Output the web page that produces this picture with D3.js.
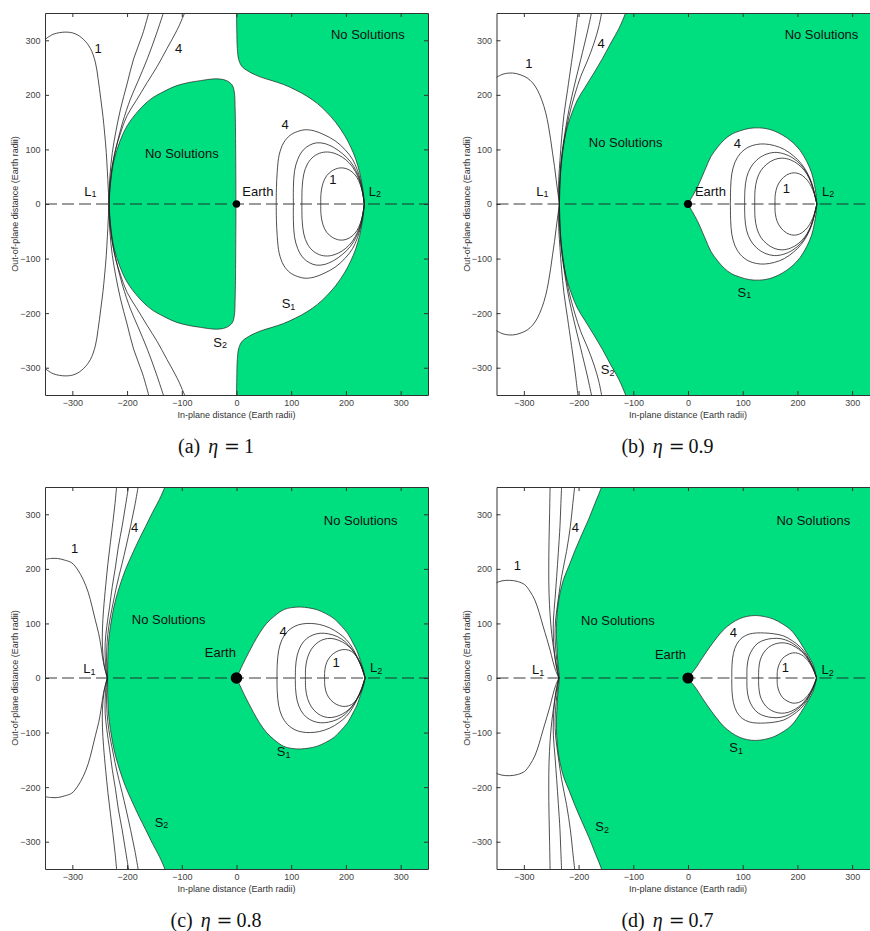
<!DOCTYPE html>
<html>
<head>
<meta charset="utf-8">
<script src="https://cdn.jsdelivr.net/npm/d3@7"></script>
<style>
  body { margin: 0; background: #fff; }
  svg text { font-family: "Liberation Sans", Arial, sans-serif; }
</style>
</head>
<body>
<svg id="fig" width="870" height="931"></svg>
<script>
// axis ticks shared by all four panels
const tickValues = [-300, -200, -100, 0, 100, 200, 300];
const panelTags = ["a", "b", "c", "d"];
const etaValues = ["1", "0.9", "0.8", "0.7"];
const earthRadius = [3.7, 4, 5.8, 5.6];

// only the upper half (y >= 0) is stored, every curve is mirrored about y = 0

// ---- (a) eta = 1 ----
const leftA = [
  [[-352,300],[-335,311],[-312,315],[-295,312],[-280,302],[-267,285],[-258,260],[-253,230],[-248,192],[-244,160],[-241,130],[-238,94],[-236,60],[-234.5,30],[-233,0]],
  [[-160,352],[-172,310],[-188,266],[-200,220],[-212,174],[-221,130],[-227,94],[-231,55],[-233,20],[-233,0]],
  [[-133,352],[-147,310],[-163,266],[-180,225],[-194,192],[-208,150],[-218,112],[-226,75],[-230,45],[-232.5,15],[-233,0]],
  [[-94,352],[-108,320],[-127,285],[-145,252],[-163,223],[-183,190],[-200,162],[-212,130],[-221,100],[-227,70],[-231,40],[-232.5,15],[-233,0]]
];
const loopsA = [
  [[154,0],[154.5,20],[158,38],[165,52],[175,61],[188,66],[200,65],[211,59],[220,49],[226,36],[230.5,20],[233.5,0]],
  [[119.5,0],[120,30],[123,55],[130,74],[141,87],[155,94],[170,95],[186,90],[200,81],[212,68],[221,52],[227,36],[231,18],[233.5,0]],
  [[104,0],[104,30],[106,60],[112,82],[122,99],[134,108],[146,112],[160,111],[177,104],[194,92],[208,78],[219,60],[226,42],[231,20],[233.5,0]],
  [[72.6,0],[73,30],[74.5,60],[78,90],[86,112],[98,126],[112,133],[125,136],[142,134],[160,127],[180,116],[198,100],[212,82],[221,62],[227,42],[231,20],[233.5,0]]
];
const innerRegionA = [[-233,0],[-230,40],[-224,80],[-213,115],[-200,143],[-180,170],[-157,192],[-133,206],[-109,217],[-85,223],[-66,226],[-45,229],[-30,229],[-18,226],[-8,218],[-4,205],[-2.5,174],[-1.5,100],[-1,0]];
const outerRegionA = [[0,360],[0.5,320],[1.5,285],[4,265],[10,252],[22,243],[43,233],[65,226],[86,219],[108,209],[128,198],[148,184],[165,168],[181,150],[198,125],[209,104],[218,82],[225,58],[229.5,35],[232.5,15],[233.5,0]];
const labelsA = [
  ["No Solutions", 240, 310], ["No Solutions", -100, 92], ["Earth", 39, 23],
  ["L", -267, 23, "1"], ["L", 253, 23, "2"], ["S", 95, -183, "1"], ["S", -30, -253, "2"],
  ["1", -253, 285], ["4", -106, 285], ["4", 89, 146], ["1", 176, 45]
];

// ---- (b) eta = 0.9 ----
const leftB = [
  [[-352,231],[-338,238],[-321,240],[-307,237],[-294,231],[-284,222],[-275.5,209.5],[-267,190],[-260,167],[-255,143],[-251,118],[-247.5,93],[-244,69],[-241,45],[-238,22],[-235,0]],
  [[-201,352],[-206,310],[-210,280],[-214,252],[-220,210],[-227,161],[-231,120],[-234,80],[-236,50],[-236.5,20],[-235,0]],
  [[-176,352],[-184,315],[-196,265],[-207,220],[-217.5,173],[-225,130],[-231,87],[-234,55],[-235,26],[-235,0]],
  [[-157.6,352],[-163,325],[-171.7,295],[-184,262],[-196,234],[-207,200],[-217.5,161],[-225,123],[-230,87],[-233,55],[-234,32],[-235,0]]
];
const loopsB = [
  [[159,0],[159.5,17],[163,32],[170,44],[180,53],[192,57],[204,55],[214,48],[222,38],[228,26],[232.5,13],[235.5,0]],
  [[122,0],[122.5,25],[126,45],[133,61],[144,73],[157,81],[172,84],[187,81],[201,73],[213,61],[222,46],[229,27],[232.5,13],[235.5,0]],
  [[103.5,0],[104,25],[107,48],[114,66],[125,80],[140,90],[158,94.5],[175,92],[192,84],[206,72],[217,57],[225,40],[231,20],[235.5,0]],
  [[77.5,0],[78,30],[80,55],[86,77],[96,93],[110,104],[125,109],[140,110],[158,107],[176,100],[193,88],[207,74],[218,57],[226,39],[231,20],[235.5,0]]
];
const boundaryS2B = [[-110,360],[-114,350],[-126,322],[-141,295],[-156,267],[-172,240],[-188,214],[-202,191],[-212,167],[-220.5,142],[-226,118],[-230,93],[-232.5,68],[-234,45],[-235,20],[-235,0]];
const boundaryS1B = [[0,0],[8,14],[17.7,32],[30,60],[42,87],[54,104],[66.6,118],[80,128],[95,134],[112,138.5],[130,139.5],[148,137],[170,128],[190,114],[205,98],[217,78],[226,57],[231,36],[234,17],[235.5,0]];
const labelsB = [
  ["No Solutions", 244, 310], ["No Solutions", -114, 112], ["Earth", 41, 23],
  ["L", -266, 23, "1"], ["L", 256, 23, "2"], ["S", 103, -162, "1"], ["S", -147, -304, "2"],
  ["1", -291, 258], ["4", -159, 295], ["4", 90, 110], ["1", 180, 29]
];

// ---- (c) eta = 0.8 ----
const leftC = [
  [[-352,217],[-340,219],[-327,219],[-314,216],[-301,211],[-290,198],[-280,180],[-271,157],[-264,131],[-258,106],[-252,82],[-248,60],[-245,39],[-241,18],[-236,0]],
  [[-219,352],[-222,320],[-226,285],[-230.5,248],[-235,210],[-239,170],[-243,125],[-245,90],[-245,57],[-242,25],[-236,0]],
  [[-197,352],[-203,315],[-209,278],[-216,240],[-221,205],[-227,168],[-232,130],[-237,95],[-240,65],[-240,38],[-238.5,15],[-236,0]],
  [[-179.5,352],[-186,315],[-193.6,278],[-202,240],[-209,210],[-215,186],[-222,155],[-228,125],[-233.5,94],[-236.5,65],[-237.5,33],[-236,0]]
];
const loopsC = [
  [[161,0],[161.5,15],[165,29],[172,40],[182,48],[194,52],[205,51],[214,46],[221,37],[227,26],[231.5,13],[235,0]],
  [[126,0],[126.5,20],[130,38],[137,53],[147,64],[160,71],[173,72.5],[187,69],[200,62],[211,52],[219,40],[226,27],[231,13],[235,0]],
  [[107.6,0],[108,20],[111,42],[118,60],[128,72],[140,79],[153,82],[168,81],[184,76],[198,67],[209,55],[218,42],[225,28],[231,13],[235,0]],
  [[74,0],[74.5,25],[77,50],[83,70],[93,85],[107,95],[120,99],[135,100],[152,98],[170,92],[187,82],[201,70],[212,55],[221,38],[228,22],[232,10],[235,0]]
];
const boundaryS2C = [[-128,360],[-131,350],[-141,327],[-153.7,303],[-166,278],[-178,254],[-191,226],[-203,198.5],[-213,170],[-221,143],[-226.5,118],[-230.5,94],[-233.5,70],[-235,45],[-235.5,20],[-235.5,0]];
const boundaryS1C = [[0,0],[6,13],[12,26],[21,44],[31,63],[42,82],[55,100],[70,114],[86,125],[101,129],[117,130],[132,128.5],[147.5,125],[163,118],[178,109],[191,96],[203,82],[214,62],[220,50],[224,39],[229,24],[233,11],[235,0]];
const labelsC = [
  ["No Solutions", 227, 289], ["No Solutions", -124, 108], ["Earth", -29.5, 46],
  ["L", -269, 17, "1"], ["L", 255, 19, "2"], ["S", 86, -135, "1"], ["S", -137, -264, "2"],
  ["1", -296, 237], ["4", -186, 275], ["4", 85, 85], ["1", 182, 29]
];

// ---- (d) eta = 0.7 ----
const leftD = [
  [[-352,174],[-340,178],[-326,179],[-312,177],[-298.5,171],[-289,159],[-280,143],[-272,120],[-264.6,94],[-258,72],[-252,51],[-247,31],[-242,14],[-236,0]],
  [[-252,352],[-253,300],[-254,250],[-254.5,200],[-254,155],[-252,115],[-249,80],[-245,50],[-240.5,22],[-236,0]],
  [[-231,352],[-232.5,315],[-234,278],[-237,230],[-240,186],[-243,145],[-246,106],[-246,75],[-244,45],[-240.5,20],[-236,0]],
  [[-207,352],[-211,315],[-215,278],[-222,232],[-231,186],[-237,145],[-242,106],[-243,75],[-241,45],[-238.5,20],[-236,0]]
];
const loopsD = [
  [[163,0],[163.5,14],[167,26],[173,36],[181,42],[191,46],[202,45],[211,40],[219,32],[225,23],[230.5,11.5],[235,0]],
  [[129,0],[129.5,18],[132,33],[138,46],[147,56],[158,62],[170,64.5],[183,63],[196,57],[207,49],[216,39],[224,27],[230,14],[235,0]],
  [[107.7,0],[108,20],[111,38],[118,53],[128,64],[141,70],[155,72.5],[170,72],[185,67],[199,58],[211,47],[220,35],[227,23],[231.5,11],[235,0]],
  [[80,0],[80.5,25],[83,45],[89,62],[99,74],[112,80.5],[125,82.5],[140,82.5],[157,81],[175,77],[191,68],[206,56],[217,42],[225,27],[231,13],[235,0]]
];
const boundaryS2D = [[-155,360],[-158,350],[-170,320],[-181.5,291],[-194,263],[-206,235],[-217,207],[-227.7,180],[-234,155],[-238,130],[-240,105],[-240.5,80],[-239.5,55],[-238,30],[-236,12],[-235,0]];
const boundaryS1D = [[0,0],[7,9],[15.4,20],[27,38],[40,57],[52,73],[64.6,88],[79,100],[95,109],[109,113],[123,114.5],[140,112.5],[157,107.6],[173,99],[188,88],[200,73],[212,54],[221,39],[228,26],[232,13],[235,0]];
const labelsD = [
  ["No Solutions", 229, 289], ["No Solutions", -128, 105], ["Earth", -32, 43],
  ["L", -274, 15, "1"], ["L", 255, 15, "2"], ["S", 88, -128, "1"], ["S", -157, -273, "2"],
  ["1", -312, 206], ["4", -206, 275], ["4", 83, 84], ["1", 178, 19]
];

const panels = [
  { left: 45, top: 13, lines: leftA, loops: loopsA, inner: innerRegionA, outer: outerRegionA, labels: labelsA },
  { left: 496.5, top: 13, lines: leftB, loops: loopsB, s2: boundaryS2B, s1: boundaryS1B, labels: labelsB },
  { left: 45, top: 487, lines: leftC, loops: loopsC, s2: boundaryS2C, s1: boundaryS1C, labels: labelsC },
  { left: 496.5, top: 487, lines: leftD, loops: loopsD, s2: boundaryS2D, s1: boundaryS1D, labels: labelsD }
];

const W = 383, H = 382;
const green = "#00df80";
const svg = d3.select("#fig");
const defs = svg.append("defs");

const mirror = pts => pts.map(([px, py]) => [px, -py]);

panels.forEach((p, i) => {
  const x = d3.scaleLinear().domain([-350, 350]).range([p.left, p.left + W]);
  const y = d3.scaleLinear().domain([-350, 350]).range([p.top + H, p.top]);
  const line = d3.line().x(d => x(d[0])).y(d => y(d[1])).curve(d3.curveCatmullRom.alpha(0.5));
  // upper half then its mirror image, one continuous path
  const both = upper => line(upper) + line(mirror(upper).reverse()).replace(/^M/, "L");
  const corners = `L${x(360)},${y(-360)}L${x(360)},${y(360)}Z`;

  defs.append("clipPath").attr("id", "clip-" + panelTags[i])
    .append("rect").attr("x", p.left).attr("y", p.top).attr("width", W).attr("height", H);

  const g = svg.append("g");
  const body = g.append("g").attr("clip-path", `url(#clip-${panelTags[i]})`);

  if (p.inner) {
    body.append("path").attr("d", both(p.outer) + corners)
      .attr("fill", green).attr("stroke", "#222").attr("stroke-width", 0.7);
    body.append("path").attr("d", both(p.inner) + "Z")
      .attr("fill", green).attr("stroke", "#222").attr("stroke-width", 0.7);
  } else {
    body.append("path").attr("d", both(p.s2) + corners)
      .attr("fill", green).attr("stroke", "#222").attr("stroke-width", 0.7);
    body.append("path").attr("d", both(p.s1) + "Z")
      .attr("fill", "#fff").attr("stroke", "#222").attr("stroke-width", 0.7);
  }

  body.selectAll("path.contour")
    .data(p.lines.concat(p.loops))
    .join("path")
    .attr("class", "contour")
    .attr("d", d => both(d))
    .attr("fill", "none")
    .attr("stroke", "#222")
    .attr("stroke-width", 0.8);

  body.append("line")
    .attr("x1", x(-350)).attr("x2", x(350)).attr("y1", y(0)).attr("y2", y(0))
    .attr("stroke", "#222").attr("stroke-width", 0.9).attr("stroke-dasharray", "12,5");

  body.append("circle").attr("cx", x(0)).attr("cy", y(0)).attr("r", earthRadius[i]).attr("fill", "#000");

  const lab = body.selectAll("text.lab")
    .data(p.labels)
    .join("text")
    .attr("class", "lab")
    .attr("x", d => x(d[1]))
    .attr("y", d => y(d[2]))
    .attr("text-anchor", "middle")
    .attr("dominant-baseline", "central")
    .attr("font-size", 13)
    .attr("fill", "#111")
    .text(d => d[0]);
  lab.filter(d => d[3]).append("tspan")
    .attr("font-size", 9).attr("dy", 3).text(d => d[3]);

  // frame and inward ticks on all four sides
  const axisStyle = sel => sel.attr("font-size", 9).attr("font-family", "Liberation Sans, Arial, sans-serif")
    .call(s => s.selectAll("text").attr("fill", "#444"))
    .call(s => s.selectAll("line, path").attr("stroke", "#333"));

  g.append("g").attr("transform", `translate(0,${p.top + H})`)
    .call(d3.axisBottom(x).tickValues(tickValues).tickSizeInner(-4).tickSizeOuter(0).tickPadding(4.5))
    .call(axisStyle);
  g.append("g").attr("transform", `translate(0,${p.top})`)
    .call(d3.axisTop(x).tickValues(tickValues).tickSizeInner(-4).tickSizeOuter(0).tickFormat(""))
    .call(axisStyle);
  g.append("g").attr("transform", `translate(${p.left},0)`)
    .call(d3.axisLeft(y).tickValues(tickValues).tickSizeInner(-4).tickSizeOuter(0).tickPadding(4.5))
    .call(axisStyle);
  g.append("g").attr("transform", `translate(${p.left + W},0)`)
    .call(d3.axisRight(y).tickValues(tickValues).tickSizeInner(-4).tickSizeOuter(0).tickFormat(""))
    .call(axisStyle);

  g.append("text")
    .attr("x", x(0)).attr("y", p.top + 405)
    .attr("text-anchor", "middle").attr("font-size", 9).attr("fill", "#333")
    .text("In-plane distance (Earth radii)");
  g.append("text")
    .attr("transform", `translate(${p.left - 30},${y(0)}) rotate(-90)`)
    .attr("text-anchor", "middle").attr("dominant-baseline", "central")
    .attr("font-size", 9).attr("fill", "#333")
    .text("Out-of-plane distance (Earth radii)");

  const cap = g.append("text")
    .attr("x", p.left + 171).attr("y", p.top + 440)
    .attr("text-anchor", "middle")
    .attr("font-size", 20).attr("fill", "#111")
    .style("font-family", "'Liberation Serif', serif");
  cap.append("tspan").text(`(${panelTags[i]})`);
  cap.append("tspan").attr("dx", 8).attr("font-style", "italic").text("η");
  cap.append("tspan").attr("dx", 6).style("font-family", "'DejaVu Serif', serif").attr("font-size", 19).text("=");
  cap.append("tspan").attr("dx", 4).text(etaValues[i]);
});
</script>
</body>
</html>
